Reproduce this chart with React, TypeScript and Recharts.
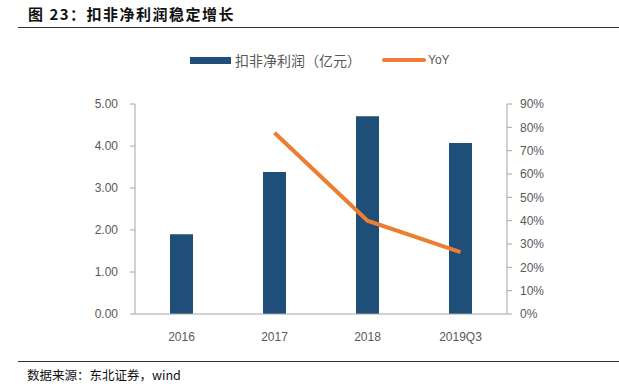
import React from 'react';
import { ComposedChart, Bar, Line, XAxis, YAxis } from 'recharts';

const categories = ['2016', '2017', '2018', '2019Q3'];
const profit = [1.9, 3.38, 4.71, 4.07];
const yoy: (number | null)[] = [null, 0.777, 0.4, 0.265];
const leftTicks = [0, 1, 2, 3, 4, 5];
const rightTicks = [0, 0.1, 0.2, 0.3, 0.4, 0.5, 0.6, 0.7, 0.8, 0.9];

const BAR_COLOR = '#1F4E79';
const LINE_COLOR = '#ED7D31';
const AXIS_COLOR = '#A6A6A6';
const TEXT_COLOR = '#595959';
const CJK = '"Noto Sans CJK SC", "Noto Sans", sans-serif';

const data = categories.map((name, i) => ({ name, profit: profit[i], yoy: yoy[i] }));

const tickStyle = { fill: TEXT_COLOR, fontSize: 12, fontFamily: '"Liberation Sans", Arial, sans-serif' };

const App: React.FC = () => {
  return (
    <div style={{ position: 'fixed', left: 0, top: 0, width: 619, height: 388, background: '#fff', overflow: 'hidden' }}>
      {/* title */}
      <div
        style={{
          position: 'absolute', left: 28, top: 4, fontFamily: CJK, fontWeight: 700,
          fontSize: 15, letterSpacing: 1.5, color: '#111', whiteSpace: 'nowrap', lineHeight: '20px',
        }}
      >
        图 23：扣非净利润稳定增长
      </div>
      <div style={{ position: 'absolute', left: 18, right: 0, top: 27, borderTop: '1.5px solid #333' }} />

      {/* legend */}
      <div style={{ position: 'absolute', left: 190, top: 50, height: 20, display: 'flex', alignItems: 'center', fontFamily: CJK, fontSize: 14, color: TEXT_COLOR, whiteSpace: 'nowrap' }}>
        <span style={{ display: 'inline-block', width: 41, height: 7, background: BAR_COLOR, marginRight: 4 }} />
        <span>扣非净利润（亿元）</span>
        <span style={{ display: 'inline-block', width: 44, height: 4, borderRadius: 2, background: LINE_COLOR, marginLeft: 21, marginRight: 2 }} />
        <span style={{ fontFamily: '"Liberation Sans", Arial, sans-serif', fontSize: 12 }}>YoY</span>
      </div>

      <div style={{ position: 'absolute', left: 0, top: 0 }}>
        <ComposedChart width={619} height={388} data={data} margin={{ top: 104, right: 52, bottom: 44, left: 0 }}>
          <XAxis
            dataKey="name"
            stroke={AXIS_COLOR}
            tickLine={false}
            tick={tickStyle}
            tickMargin={12}
            height={30}
            interval={0}
          />
          <YAxis
            yAxisId="left"
            domain={[0, 5]}
            ticks={leftTicks}
            stroke={AXIS_COLOR}
            tick={tickStyle}
            tickSize={5}
            tickMargin={12}
            width={135}
            tickFormatter={(v: number) => v.toFixed(2)}
          />
          <YAxis
            yAxisId="right"
            orientation="right"
            domain={[0, 0.9]}
            ticks={rightTicks}
            stroke={AXIS_COLOR}
            tick={{ ...tickStyle, textAnchor: 'start' }}
            tickSize={5}
            tickMargin={8}
            width={60}
            tickFormatter={(v: number) => `${Math.round(v * 100)}%`}
          />
          <Bar yAxisId="left" dataKey="profit" fill={BAR_COLOR} barSize={23} isAnimationActive={false} />
          <Line
            yAxisId="right"
            dataKey="yoy"
            stroke={LINE_COLOR}
            strokeWidth={4}
            dot={false}
            type="linear"
            isAnimationActive={false}
          />
        </ComposedChart>
      </div>

      {/* source */}
      <div style={{ position: 'absolute', left: 18, right: 0, top: 361, borderTop: '1.5px solid #333' }} />
      <div style={{ position: 'absolute', left: 27, top: 366, fontFamily: CJK, fontSize: 12.5, color: '#111', whiteSpace: 'nowrap', lineHeight: '18px' }}>
        数据来源：东北证券，wind
      </div>
    </div>
  );
};

export default App;
